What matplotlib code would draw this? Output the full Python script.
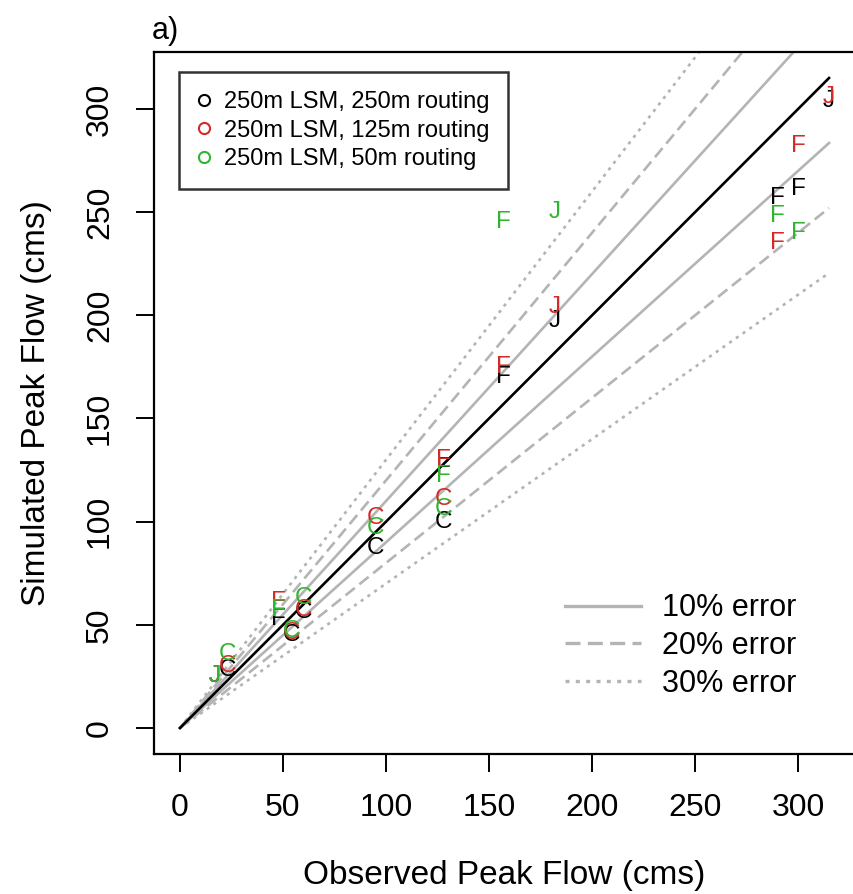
import numpy as np
import matplotlib
matplotlib.use("Agg")
import matplotlib.pyplot as plt
from matplotlib.lines import Line2D

plt.rcParams["font.family"] = ["Liberation Sans", "DejaVu Sans"]

# Flood events: letter code and observed peak flow (cms)
event_codes = ["J", "C", "F", "C", "C", "C", "F", "C", "F", "J", "F", "F", "J"]
observed = [17, 23, 48, 54, 60, 95, 128, 128, 157, 182, 290, 300, 315]

# Simulated peak flow (cms) per routing resolution
sim_250 = [25, 28, 53, 45, 56, 87, 126, 100, 170, 197, 257, 261, 304]
sim_125 = [25, 30, 61, 46, 57, 102, 130, 111, 175, 204, 235, 282, 306]
sim_50 = [25, 36, 57, 47, 63, 97, 122, 106, 245, 250, 248, 240, np.nan]

series_labels = ["250m LSM, 250m routing", "250m LSM, 125m routing", "250m LSM, 50m routing"]
series_colors = ["#000000", "#d42a2a", "#2fb52f"]

error_levels = [0.1, 0.2, 0.3]
error_labels = ["10% error", "20% error", "30% error"]
error_styles = ["-", (0, (4.5, 2.2)), (0, (1.2, 1.9))]
line_max = 315

grey = "#b4b4b4"

fig = plt.figure(figsize=(8.54, 8.94), dpi=100)
ax = fig.add_axes([154 / 854, 140 / 894, 701 / 854, 702 / 894])

xx = np.array([0, line_max])
for lev, ls in zip(error_levels, error_styles):
    for sgn in (1, -1):
        ax.plot(xx, xx * (1 + sgn * lev), color=grey, lw=1.9, ls=ls, dash_capstyle="butt")
ax.plot(xx, xx, color="black", lw=1.9)

for sims, col in zip([sim_250, sim_125, sim_50], series_colors):
    for code, xo, ys in zip(event_codes, observed, sims):
        if np.isnan(ys):
            continue
        ax.text(xo, ys, code, color=col, fontsize=17.5, ha="center", va="center")

ax.set_xlim(-12.6, 327.6)
ax.set_ylim(-12.6, 327.6)
ticks = np.arange(0, 301, 50)
ax.set_xticks(ticks)
ax.set_yticks(ticks)
ax.tick_params(direction="out", length=13, width=1.4, labelsize=23, pad=15)
for lab in ax.get_yticklabels():
    lab.set_rotation(90)
    lab.set_va("center")
for sp in ax.spines.values():
    sp.set_linewidth(1.6)

ax.set_xlabel("Observed Peak Flow (cms)", fontsize=24, labelpad=27)
ax.set_ylabel("Simulated Peak Flow (cms)", fontsize=24, labelpad=24)
fig.text(152 / 854, 1 - 31 / 894, "a)", fontsize=22, ha="left", va="center")

handles = [Line2D([], [], ls="none", marker="o", mfc="none", mec=c, ms=8, mew=1.5)
           for c in series_colors]
leg1 = ax.legend(handles, series_labels, loc="upper left",
                 bbox_to_anchor=(25 / 701, (754 - 72) / 702), borderaxespad=0,
                 fontsize=17, frameon=True, fancybox=False, edgecolor="black",
                 handlelength=0.55, handletextpad=0.55, labelspacing=0.28,
                 borderpad=0.8)
leg1.get_frame().set_linewidth(1.8)
ax.add_artist(leg1)

handles2 = [Line2D([], [], color=grey, lw=2.4, ls=ls, dash_capstyle="butt")
            for ls in error_styles]
ax.legend(handles2, error_labels, loc="upper left",
          bbox_to_anchor=(0.586, 0.229), borderaxespad=0, borderpad=0,
          frameon=False, fontsize=22, handlelength=2.5, handletextpad=0.69,
          labelspacing=0.25)

fig.savefig("out.png", dpi=100)
